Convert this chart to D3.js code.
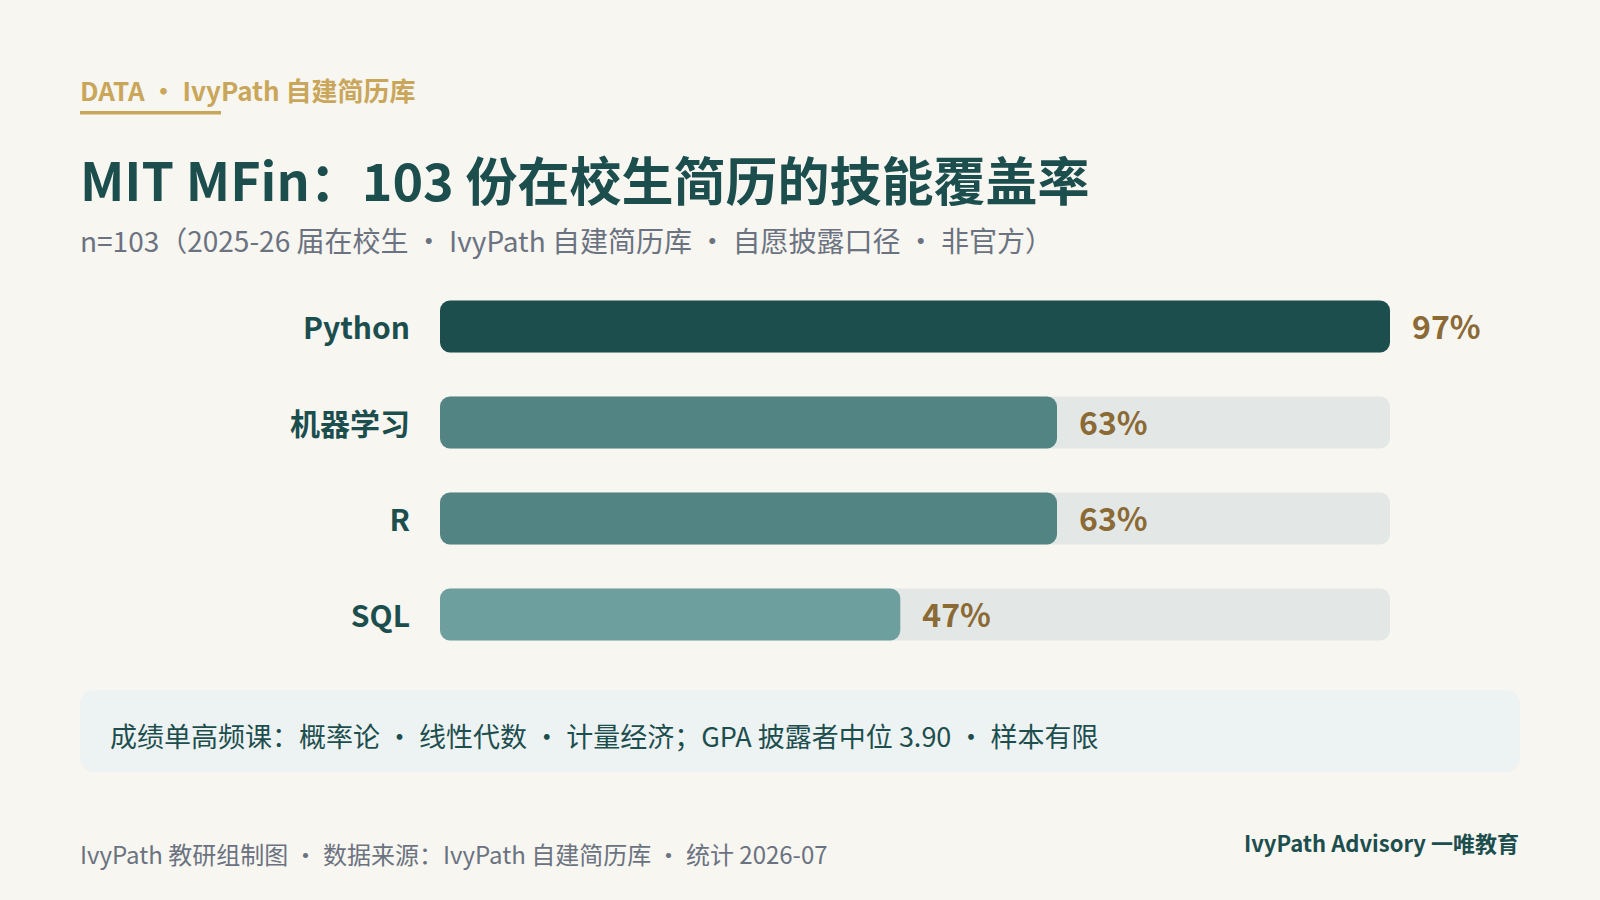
<!DOCTYPE html>
<html>
<head>
<meta charset="utf-8">
<script src="https://cdn.jsdelivr.net/npm/d3@7"></script>
<style>
  html, body { margin: 0; padding: 0; background: #F7F6F1; }
  svg { display: block; }
  text { font-family: "Noto Sans CJK SC", "Noto Sans", sans-serif; }
</style>
</head>
<body>
<svg id="chart" width="1600" height="900"></svg>
<script>
// ---- data ----
const categories = ["Python", "机器学习", "R", "SQL"];
const values = [97, 63, 63, 47];
const valueLabels = ["97%", "63%", "63%", "47%"];

const kicker = "DATA ・ IvyPath 自建简历库";
const title = "MIT MFin：103 份在校生简历的技能覆盖率";
const subtitle = "n=103（2025-26 届在校生 ・ IvyPath 自建简历库 ・ 自愿披露口径 ・ 非官方）";
const note = "成绩单高频课：概率论 ・ 线性代数 ・ 计量经济；GPA 披露者中位 3.90 ・ 样本有限";
const footerLeft = "IvyPath 教研组制图 ・ 数据来源：IvyPath 自建简历库 ・ 统计 2026-07";
const footerRight = "IvyPath Advisory 一唯教育";

// ---- styles ----
const barColors = ["#1D4E4E", "#528484", "#528484", "#6E9F9F"];
const C = {
  bg: "#F7F6F1", teal: "#1D4E4E", gold: "#C9A65A", brown: "#8B6A35",
  grey: "#6B7280", track: "#E3E8E6", noteBg: "#EDF2F2"
};

const svg = d3.select("#chart");
svg.append("rect").attr("width", 1600).attr("height", 900).attr("fill", C.bg);

// header
svg.append("text").attr("x", 80).attr("y", 101).attr("fill", C.gold)
  .attr("font-size", 26).attr("font-weight", 700).text(kicker);
svg.append("rect").attr("x", 80).attr("y", 111).attr("width", 141).attr("height", 3.5).attr("fill", C.gold);

svg.append("text").attr("x", 80).attr("y", 201).attr("fill", C.teal)
  .attr("font-size", 52).attr("font-weight", 700).text(title);
svg.append("text").attr("x", 80).attr("y", 252).attr("fill", C.grey)
  .attr("font-size", 28).attr("font-weight", 400).text(subtitle);

// scales
const x = d3.scaleLinear().domain([0, d3.max(values)]).range([440, 1390]);
const y = d3.scaleBand().domain(categories).range([278.5, 662.5])
  .paddingInner(0.458).paddingOuter(0.229);

const rows = categories.map((c, i) => ({ c, v: values[i], label: valueLabels[i], color: barColors[i] }));

const g = svg.append("g");
g.selectAll("rect.track").data(rows).join("rect").attr("class", "track")
  .attr("x", x(0)).attr("y", d => y(d.c))
  .attr("width", x(d3.max(values)) - x(0)).attr("height", y.bandwidth())
  .attr("rx", 10).attr("fill", C.track);

g.selectAll("rect.bar").data(rows).join("rect").attr("class", "bar")
  .attr("x", x(0)).attr("y", d => y(d.c))
  .attr("width", d => x(d.v) - x(0)).attr("height", y.bandwidth())
  .attr("rx", 10).attr("fill", d => d.color);

g.selectAll("text.cat").data(rows).join("text").attr("class", "cat")
  .attr("x", 410).attr("y", d => y(d.c) + y.bandwidth() / 2)
  .attr("dy", "0.4em").attr("text-anchor", "end")
  .attr("fill", C.teal).attr("font-size", 30).attr("font-weight", 700)
  .text(d => d.c);

g.selectAll("text.val").data(rows).join("text").attr("class", "val")
  .attr("x", d => x(d.v) + 22).attr("y", d => y(d.c) + y.bandwidth() / 2)
  .attr("dy", "0.4em")
  .attr("fill", C.brown).attr("font-size", 32).attr("font-weight", 700)
  .text(d => d.label);

// note box
svg.append("rect").attr("x", 80).attr("y", 690).attr("width", 1440).attr("height", 82)
  .attr("rx", 14).attr("fill", C.noteBg);
svg.append("text").attr("x", 110).attr("y", 737).attr("dy", "0.37em")
  .attr("fill", C.teal).attr("font-size", 27).text(note);

// footer
svg.append("text").attr("x", 80).attr("y", 855).attr("dy", "0.37em")
  .attr("fill", C.grey).attr("font-size", 24).text(footerLeft);
svg.append("text").attr("x", 1519).attr("y", 844).attr("dy", "0.37em")
  .attr("text-anchor", "end").attr("fill", C.teal)
  .attr("font-size", 22).attr("font-weight", 700).text(footerRight);
</script>
</body>
</html>
